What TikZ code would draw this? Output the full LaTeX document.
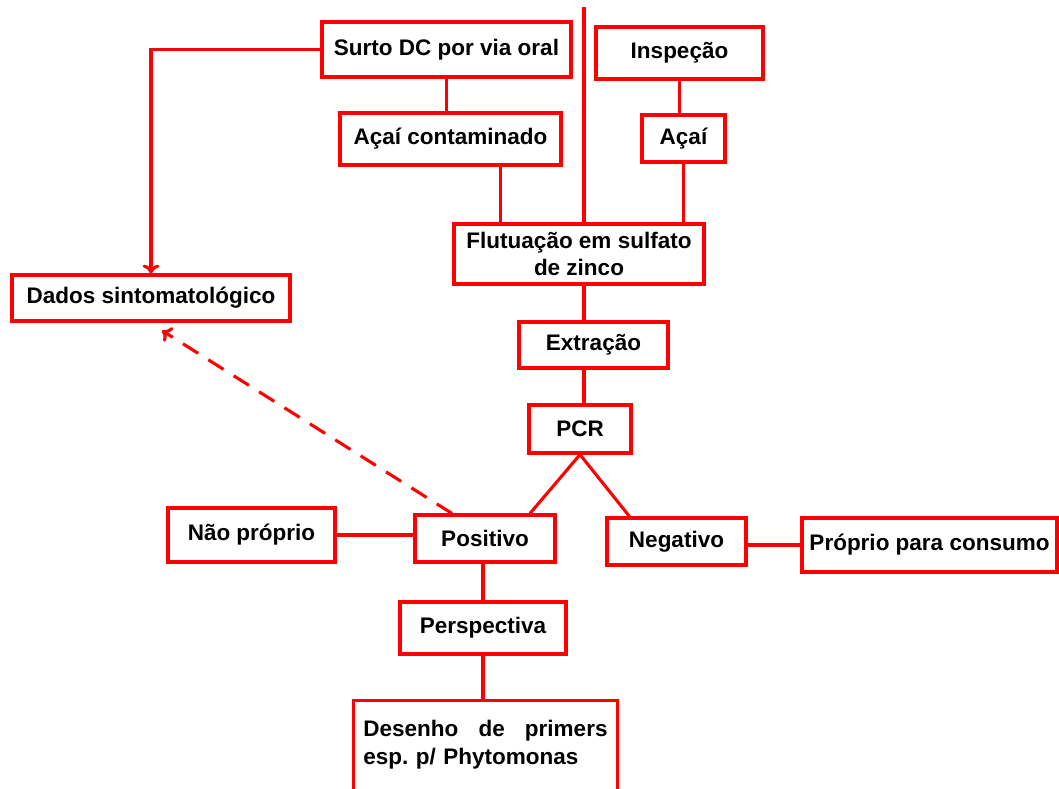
\documentclass[tikz,border=0pt]{standalone}
\usepackage{fontspec}
\setmainfont{Liberation Sans}
\usetikzlibrary{arrows.meta}

\tikzset{
	caixa/.style={draw=red, line width=2.2pt, fill=white, align=center, inner sep=0pt,
		font=\bfseries\fontsize{16}{19.5}\selectfont},
	liga/.style={draw=red, line width=2.2pt},
	seta/.style={-{To[length=2.2mm, width=4.2mm]}},
}

\begin{document}
\begin{tikzpicture}[x=0.025cm, y=-0.025cm]
	\clip (0,0) rectangle (1059,789);
	%% caixas de cima
	\node[caixa, minimum width=6.225cm, minimum height=1.375cm] (surto) at (446.5,49.5) {Surto DC por via oral};
	\node[caixa, minimum width=4.175cm, minimum height=1.3cm] (insp) at (679.5,53) {Inspeção};
	\node[caixa, minimum width=5.525cm, minimum height=1.3cm] (acaicont) at (450.5,139) {Açaí contaminado};
	\node[caixa, minimum width=2.075cm, minimum height=1.175cm] (acai) at (683.5,138.5) {Açaí};
	\node[caixa, minimum width=6.25cm, minimum height=1.5cm] (flut) at (579,254) {Flutuação em sulfato\\de zinco};
	\node[caixa, minimum width=6.95cm, minimum height=1.15cm] (dados) at (151,298) {Dados sintomatológico};
	%% meio
	\node[caixa, minimum width=3.725cm, minimum height=1.15cm] (extr) at (593.5,345) {Extração};
	\node[caixa, minimum width=2.55cm, minimum height=1.2cm] (pcr) at (580,429) {PCR};
	\node[caixa, minimum width=4.175cm, minimum height=1.35cm] (naopr) at (251.5,535) {Não próprio};
	\node[caixa, minimum width=3.5cm, minimum height=1.175cm] (pos) at (485,538.5) {Positivo};
	\node[caixa, minimum width=3.475cm, minimum height=1.175cm] (neg) at (676.5,541.5) {Negativo};
	\node[caixa, minimum width=6.375cm, minimum height=1.35cm] (proprio) at (929.5,545) {Próprio para consumo};
	%% baixo
	\node[caixa, minimum width=4.15cm, minimum height=1.3cm] (persp) at (483,628) {Perspectiva};
	\node[caixa, anchor=north, text width=6.1cm, align=left, inner xsep=0.26cm, inner ysep=0.5cm] (desenho) at (485.5,699)
		{Desenho \hfill de \hfill primers\\ esp.\ p/ Phytomonas\\ \mbox{}\\ \mbox{}};

	\coordinate (topo) at (584,7);

	%% ligacoes
	\draw[liga, seta] (surto.west) -- (surto.west -| dados.north) -- (dados.north);
	\draw[liga] (surto.south) -- (surto.south |- acaicont.north);
	\draw[liga] ([shift={(50,0)}]acaicont.south) -- ([shift={(50,0)}]acaicont.south |- flut.north);
	\draw[liga] (insp.south) -- (insp.south |- acai.north);
	\draw[liga] (acai.south) -- (acai.south |- flut.north);
	\draw[liga] (topo) -- (topo |- flut.north);
	\draw[liga] (topo |- flut.south) -- (topo |- extr.north);
	\draw[liga] (topo |- extr.south) -- (topo |- pcr.north);
	\draw[liga] (pcr.south) -- ([shift={(45,0)}]pos.north);
	\draw[liga] (pcr.south) -- ([shift={(-47,0)}]neg.north);
	\draw[liga] (naopr.east) -- (naopr.east -| pos.west);
	\draw[liga] (proprio.west -| neg.east) -- (proprio.west);
	\draw[liga] (persp.north |- pos.south) -- (persp.north);
	\draw[liga] (persp.south) -- (persp.south |- desenho.north);
	\draw[liga, seta, dash pattern=on 0.45cm off 0.3cm] ([shift={(-33,0)}]pos.north) -- ([shift={(11,8)}]dados.south);
\end{tikzpicture}
\end{document}
